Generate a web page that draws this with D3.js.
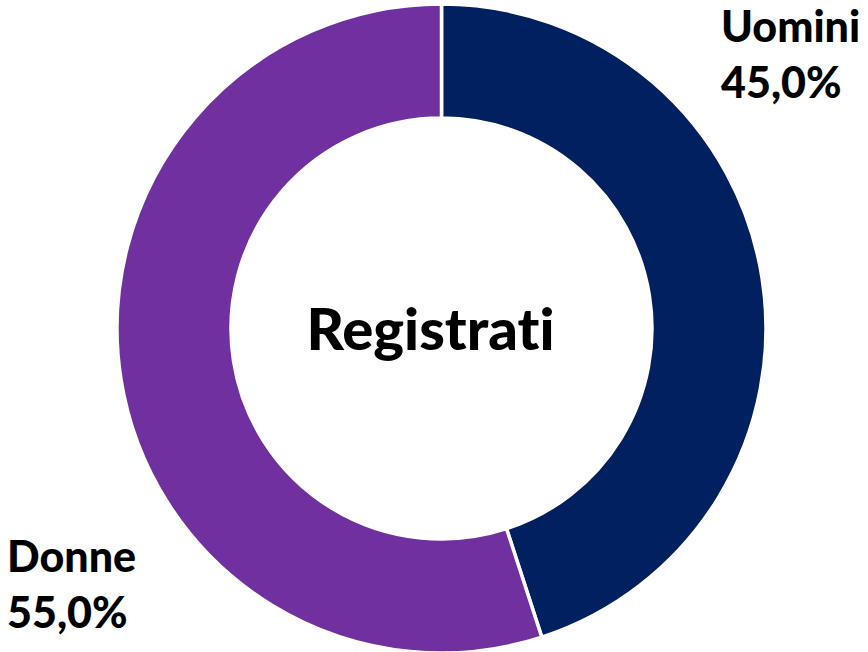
<!DOCTYPE html>
<html>
<head>
<meta charset="utf-8">
<script src="https://cdn.jsdelivr.net/npm/d3@7"></script>
<style>
  body { margin: 0; background: #fff; }
  text { font-family: Lato, "Open Sans", sans-serif; font-weight: 900; fill: #000; font-variant-ligatures: none; }
</style>
</head>
<body>
<div id="chart"></div>
<script>
var svgWidth = 868;
var svgHeight = 652;

// data
var categories = ["Uomini", "Donne"];
var values = [45.0, 55.0];
var colors = ["#002060", "#7030A0"];
var centerTitle = "Registrati";

var cx = 441.5, cy = 328.5;
var outerR = 324.5, innerR = 210.5;

var svg = d3.select("#chart")
    .append("svg")
    .attr("width", svgWidth)
    .attr("height", svgHeight);

var g = svg.append("g")
    .attr("transform", `translate(${cx}, ${cy})`);

var pie = d3.pie().sort(null).value(d => d.value);
var arc = d3.arc().innerRadius(innerR).outerRadius(outerR);

var data = categories.map((c, i) => ({ name: c, value: values[i], color: colors[i] }));

g.selectAll("path")
    .data(pie(data))
    .enter()
    .append("path")
    .attr("d", arc)
    .attr("fill", d => d.data.color)
    .attr("stroke", "#fff")
    .attr("stroke-width", 3.5);

g.append("text")
    .attr("x", -11)
    .attr("y", 21)
    .attr("text-anchor", "middle")
    .style("font-size", "58px")
    .text(centerTitle);

// label positions
var labelPos = [[721, 42], [7, 572]];
var fmt = v => v.toFixed(1).replace(".", ",") + "%";

data.forEach(function(d, i) {
    var t = svg.append("text")
        .attr("x", labelPos[i][0])
        .attr("y", labelPos[i][1])
        .style("font-size", "43px");
    t.append("tspan").attr("x", labelPos[i][0]).text(d.name);
    t.append("tspan").attr("x", labelPos[i][0]).attr("dy", 56).text(fmt(d.value));
});
</script>
</body>
</html>
